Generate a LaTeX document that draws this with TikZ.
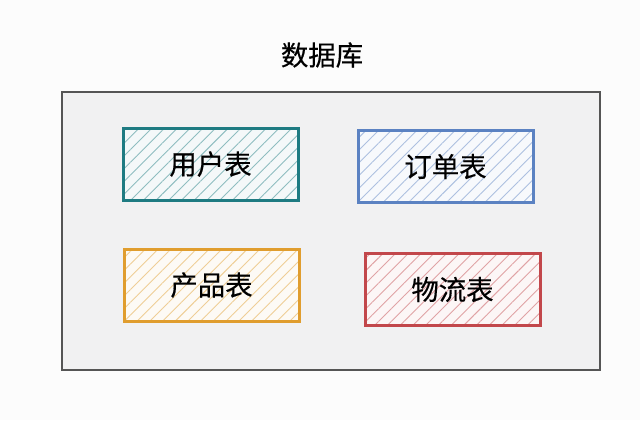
\documentclass[tikz,border=0pt]{standalone}
\usepackage{fontspec}
\usepackage{xcolor}
\usepackage{tikz}
\usetikzlibrary{patterns.meta,positioning}
\newfontfamily\cjk[FakeBold=0.4]{Noto Sans CJK SC}
\definecolor{tbTeal}{HTML}{1E7B82}
\definecolor{tbBlue}{HTML}{5B82C2}
\definecolor{tbOchre}{HTML}{E09D2E}
\definecolor{tbBrick}{HTML}{C2474B}
\definecolor{tbFrame}{HTML}{555555}
\definecolor{tbPanel}{HTML}{F1F1F2}

\begin{document}
\begin{tikzpicture}[
    x=1bp, y=-1bp,
    font=\cjk\fontsize{27.5}{30}\selectfont,
    tbl/.style={draw=#1, line width=3bp, minimum width=175bp, minimum height=72bp,
                preaction={fill=#1!5},
                pattern={Lines[angle=45,distance=9bp,line width=0.9bp]},
                pattern color=#1!50, text=black},
    lbl/.style={text=black},
  ]
  % canvas
  \fill[white!99!black] (0,0) rectangle (640,420);
  \useasboundingbox (0,0) rectangle (640,420);
  % database frame
  \node[draw=tbFrame, fill=tbPanel, line width=1.6bp, minimum width=538bp,
        minimum height=278bp, inner sep=0pt] (db) at (331,231) {};
  \node[lbl] (title) at (322,55) {数据库};
  % tables
  \node[tbl=tbTeal]  (users)    at (210.5,164) {};
  \node[tbl=tbBlue]  (orders)   at (445.5,166.5) {};
  \node[tbl=tbOchre] (products) at (211.5,285) {};
  \node[tbl=tbBrick] (shipping) at (452.5,289.5) {};
  % labels
  \node[lbl] at (users)    {用户表};
  \node[lbl] at (orders)   {订单表};
  \node[lbl] at (products) {产品表};
  \node[lbl] at (shipping) {物流表};
\end{tikzpicture}
\end{document}
